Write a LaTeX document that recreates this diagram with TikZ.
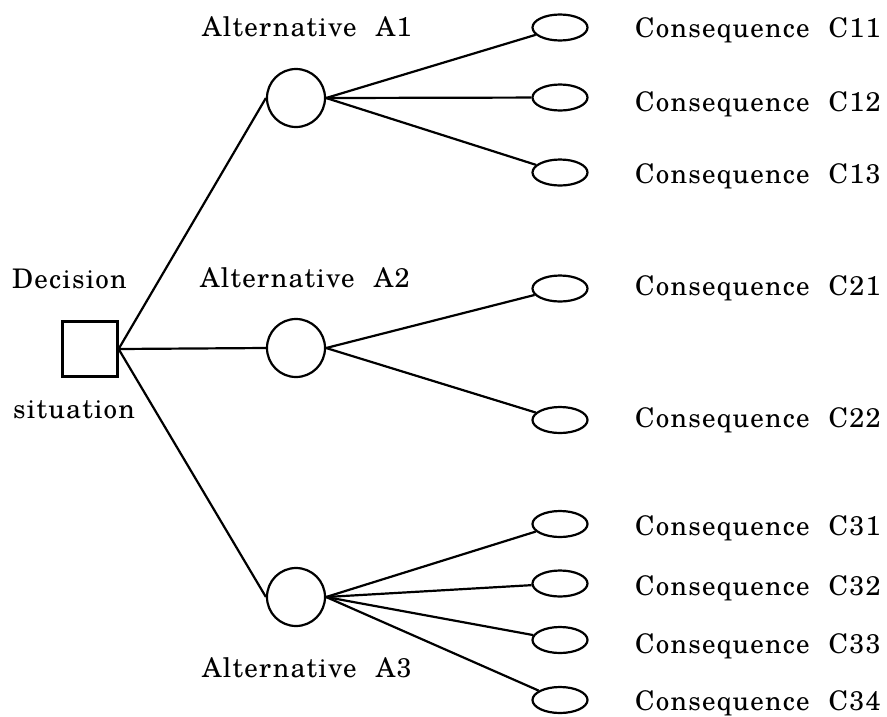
\documentclass[tikz,border=0pt]{standalone}
\usepackage{fontspec}
\setmainfont{TeX Gyre Schola}[LetterSpace=4.5,WordSpace=2.2]
\usetikzlibrary{shapes.geometric}
\begin{document}
\begin{tikzpicture}[x=1pt,y=-1pt,
  lbl/.style={anchor=base west,inner sep=0pt,font=\fontsize{27}{32}\selectfont},
  branch/.style={line width=2.2pt},
  decision/.style={draw,line width=2.2pt,minimum size=55pt,inner sep=0pt},
  chance/.style={draw,circle,line width=2.2pt,minimum size=58pt,inner sep=0pt},
  outcome/.style={draw,ellipse,line width=2.2pt,minimum width=55pt,minimum height=26pt,inner sep=0pt}]
\useasboundingbox (0,0) rectangle (887,716);

% decision square and its label
\node[decision] (D) at (90,349) {};
\node[lbl] (tD1) at (12,288) {Decision};
\node[lbl] (tD2) at (13,418) {situation};

% alternatives
\node[chance] (A1) at (296,98) {};
\node[chance] (A2) at (296,348) {};
\node[chance] (A3) at (296,597) {};
\node[lbl] (tA1) at (202,36) {Alternative A1};
\node[lbl] (tA2) at (200,287) {Alternative A2};
\node[lbl] (tA3) at (202,677) {Alternative A3};

% consequences
\node[outcome] (C11) at (560,27.5) {};
\node[outcome] (C12) at (560,97.5) {};
\node[outcome] (C13) at (560,172.5) {};
\node[outcome] (C21) at (560,288.5) {};
\node[outcome] (C22) at (560,420) {};
\node[outcome] (C31) at (560,524) {};
\node[outcome] (C32) at (560,583.5) {};
\node[outcome] (C33) at (560,640) {};
\node[outcome] (C34) at (560,700) {};

\node[lbl] (tC11) at (635,37) {Consequence C11};
\node[lbl] (tC12) at (635,111) {Consequence C12};
\node[lbl] (tC13) at (635,183) {Consequence C13};
\node[lbl] (tC21) at (635,295) {Consequence C21};
\node[lbl] (tC22) at (635,427) {Consequence C22};
\node[lbl] (tC31) at (635,535) {Consequence C31};
\node[lbl] (tC32) at (635,595) {Consequence C32};
\node[lbl] (tC33) at (635,653) {Consequence C33};
\node[lbl] (tC34) at (635,710) {Consequence C34};

% branches
\foreach \a in {A1,A2,A3}
  \draw[branch] (D.east) -- (\a.west);
\foreach \c in {C11,C12,C13}
  \draw[branch] (A1.east) -- (\c);
\foreach \c in {C21,C22}
  \draw[branch] (A2.east) -- (\c);
\foreach \c in {C31,C32,C33,C34}
  \draw[branch] (A3.east) -- (\c);
\end{tikzpicture}
\end{document}
